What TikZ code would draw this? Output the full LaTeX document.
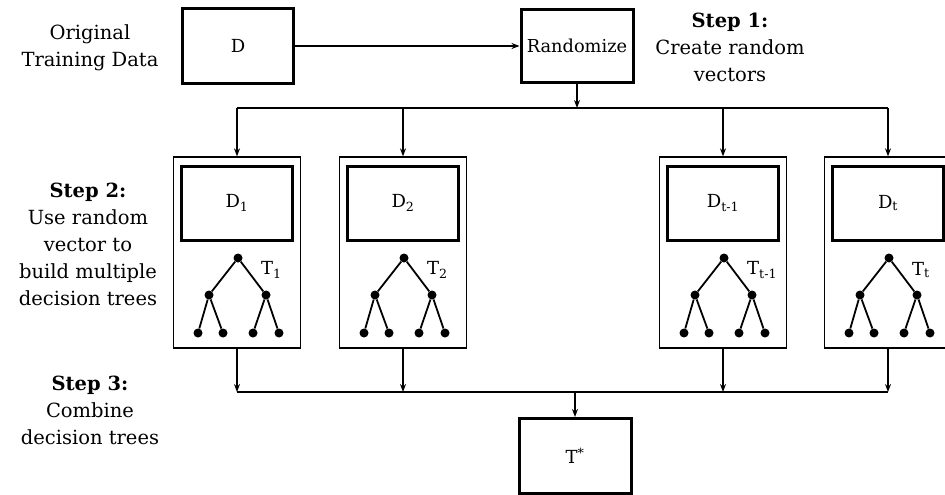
\documentclass[tikz,border=0pt]{standalone}
\usepackage{fontspec}
\setmainfont{DejaVu Serif}
\usetikzlibrary{arrows.meta}
\begin{document}
\begin{tikzpicture}[x=1pt,y=-1pt,
  thickbox/.style={draw,line width=3pt,inner sep=0pt,font=\fontsize{18}{22}\selectfont},
  outerbox/.style={draw,line width=1.3pt,minimum width=127pt,minimum height=191pt,inner sep=0pt},
  conn/.style={line width=2pt},
  arr/.style={line width=2pt,-{Stealth[length=8pt,width=6pt]}},
  lbl/.style={align=center,font=\fontsize{19.5}{27}\selectfont},
  dot/.style={circle,fill,inner sep=0pt,minimum size=9pt},
  edge/.style={line width=1.8pt}]
\useasboundingbox (0,0) rectangle (945,495);
\clip (0,0) rectangle (945,495);
% top
\node[thickbox,minimum width=111pt,minimum height=75pt] (D) at (238,46) {D};
\node[thickbox,minimum width=112pt,minimum height=73pt,font=\fontsize{17.8}{20}\selectfont] (R) at (577,46) {Randomize};
\node[lbl] (orig) at (90,48) {Original\\Training Data};
\node[lbl] (s1) at (730,47) {\textbf{Step 1:}\\Create random\\vectors};
\draw[arr] (D.east) -- (R.west);
\coordinate (bt) at (577,108);
\draw[arr] (R.south) -- (bt);
% groups
\foreach \i/\cx/\sub in {1/237/1,2/403/2,3/723/t-1,4/888/t}{
  \node[outerbox] (O\i) at (\cx,252.5) {};
  \node[thickbox,minimum width=111pt,minimum height=74pt] (I\i) at (\cx,203) {D\textsubscript{\sub}};
  \node[dot] (r\i) at (\cx+1,258) {};
  \node[dot] (a\i) at (\cx-28,295) {};
  \node[dot] (b\i) at (\cx+29,295) {};
  \node[dot] (l1\i) at (\cx-39,333) {};
  \node[dot] (l2\i) at (\cx-14,333) {};
  \node[dot] (l3\i) at (\cx+16,333) {};
  \node[dot] (l4\i) at (\cx+42,333) {};
  \draw[edge] (r\i) -- (a\i) (r\i) -- (b\i) (a\i) -- (l1\i) (a\i) -- (l2\i) (b\i) -- (l3\i) (b\i) -- (l4\i);
  \node[font=\fontsize{18}{22}\selectfont,anchor=west,inner sep=0pt] (t\i) at (\cx+24,270) {T\textsubscript{\sub}};
  \coordinate (bt\i) at (\cx,108);
  \coordinate (bb\i) at (\cx,392);
  \draw[arr] (bt\i) -- (O\i.north);
  \draw[arr] (O\i.south) -- (bb\i);
}
\draw[conn] (bt1) -- (bt4);
\draw[conn] (bb1) -- (bb4);
\node[lbl] (s2) at (88,244) {\textbf{Step 2:}\\Use random\\vector to\\build multiple\\decision trees};
\node[lbl] (s3) at (90,410) {\textbf{Step 3:}\\Combine\\decision trees};
% bottom
\node[thickbox,minimum width=112pt,minimum height=75pt] (T) at (575,456) {T\textsuperscript{*}};
\coordinate (bb0) at (575,392);
\draw[arr] (bb0) -- (T.north);
\end{tikzpicture}
\end{document}
